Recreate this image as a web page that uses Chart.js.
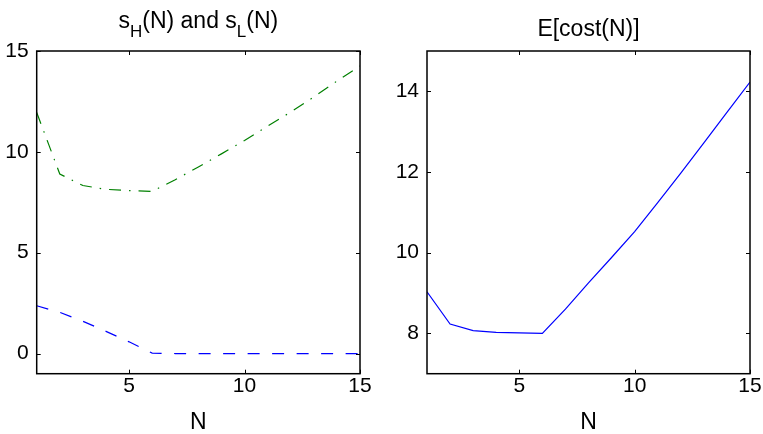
<!DOCTYPE html>
<html>
<head>
<meta charset="utf-8">
<script src="https://cdn.jsdelivr.net/npm/chart.js@4"></script>
<style>
  html, body { margin: 0; padding: 0; background: #fff; }
  #wrap { position: relative; width: 763px; height: 434px; }
  .box { position: absolute; top: 0; height: 434px; }
  #b1 { left: 0; width: 381px; }
  #b2 { left: 381px; width: 382px; }
</style>
</head>
<body>
<div id="wrap">
  <div class="box" id="b1"><canvas id="c1"></canvas></div>
  <div class="box" id="b2"><canvas id="c2"></canvas></div>
</div>
<script>
// ---- data ----
const N = [1, 2, 3, 4, 5, 6, 7, 8, 9, 10, 11, 12, 13, 14, 15];
const sH = [11.95, 8.90, 8.33, 8.14, 8.08, 8.04, 8.62, 9.25, 9.90, 10.56, 11.28, 11.97, 12.72, 13.51, 14.26];
const sL = [2.37, 2.04, 1.60, 1.10, 0.58, 0.02, 0, 0, 0, 0, 0, 0, 0, 0, 0];
const cost = [9.03, 8.23, 8.07, 8.025, 8.01, 8.0, 8.6, 9.25, 9.88, 10.52, 11.24, 11.97, 12.72, 13.48, 14.23];
const xTicks = [5, 10, 15];
const yTicksLeft = [0, 5, 10, 15];
const yTicksRight = [8, 10, 12, 14];
const leftTitle = [["s", 0], ["H", 1], ["(N) and s", 0], ["L", 1], ["(N)", 0]];
const rightTitle = "E[cost(N)]";
const xLabel = "N";

const FONT = "'Liberation Sans', Arial, Helvetica, sans-serif";

function pts(xs, ys) { return xs.map((x, i) => ({ x: x, y: ys[i] })); }

const boxPlugin = {
  id: 'matlabBox',
  afterDraw(chart) {
    const ctx = chart.ctx, a = chart.chartArea;
    const xs = chart.scales.x, ys = chart.scales.y;
    const L = 4;
    ctx.save();
    ctx.strokeStyle = '#000';
    ctx.lineWidth = 1.5;
    ctx.strokeRect(a.left, a.top, a.right - a.left, a.bottom - a.top);
    ctx.lineWidth = 1;
    ctx.beginPath();
    xs.ticks.forEach(t => {
      const p = Math.round(xs.getPixelForValue(t.value)) + 0.5;
      ctx.moveTo(p, a.bottom); ctx.lineTo(p, a.bottom - L);
      ctx.moveTo(p, a.top); ctx.lineTo(p, a.top + L);
    });
    ys.ticks.forEach(t => {
      const p = Math.round(ys.getPixelForValue(t.value)) + 0.5;
      ctx.moveTo(a.left, p); ctx.lineTo(a.left + L, p);
      ctx.moveTo(a.right, p); ctx.lineTo(a.right - L, p);
    });
    ctx.stroke();
    // title
    const o = chart.options.plugins.matlabBox;
    const cx = (a.left + a.right) / 2;
    ctx.fillStyle = '#000';
    ctx.textBaseline = 'alphabetic';
    ctx.textAlign = 'left';
    const mainF = '23px ' + FONT, subF = '17px ' + FONT;
    let w = 0;
    o.parts.forEach(([t, s]) => { ctx.font = s ? subF : mainF; w += ctx.measureText(t).width; });
    let x = cx - w / 2;
    o.parts.forEach(([t, s]) => {
      ctx.font = s ? subF : mainF;
      ctx.fillText(t, x, o.baseline + (s ? 9 : 0));
      x += ctx.measureText(t).width;
    });
    ctx.restore();
  }
};

function makeChart(id, datasets, yMin, yMax, yTicks, padRight, yWidth, parts, baseline) {
  return new Chart(document.getElementById(id), {
    type: 'line',
    data: { datasets: datasets },
    options: {
      responsive: true,
      maintainAspectRatio: false,
      animation: false,
      events: [],
      layout: { padding: { top: 51, right: padRight, left: 0, bottom: 0 } },
      plugins: {
        legend: { display: false },
        tooltip: { enabled: false },
        title: { display: false },
        matlabBox: { parts: parts, baseline: baseline }
      },
      scales: {
        x: {
          type: 'linear', min: 1, max: 15,
          grid: { display: false, drawTicks: false }, border: { display: false },
          afterBuildTicks: s => { s.ticks = xTicks.map(v => ({ value: v })); },
          afterFit: s => { s.height = 60.3; },
          ticks: { font: { family: FONT, size: 21 }, color: '#000', padding: 0, maxRotation: 0 },
          title: { display: true, text: xLabel, color: '#000', font: { family: FONT, size: 23, lineHeight: 1 }, padding: { top: 0, bottom: 0 } }
        },
        y: {
          type: 'linear', min: yMin, max: yMax,
          grid: { display: false, drawTicks: false }, border: { display: false },
          afterBuildTicks: s => { s.ticks = yTicks.map(v => ({ value: v })); },
          afterFit: s => { s.width = yWidth; },
          ticks: { font: { family: FONT, size: 21 }, color: '#000', padding: 8 }
        }
      }
    },
    plugins: [boxPlugin]
  });
}

makeChart('c1', [
  { data: pts(N, sH), borderColor: 'rgb(0,128,0)', borderWidth: 1.2, borderDash: [12, 8, 1.5, 8], pointRadius: 0, tension: 0, fill: false },
  { data: pts(N, sL), borderColor: 'rgb(0,0,255)', borderWidth: 1.2, borderDash: [12, 12.5], pointRadius: 0, tension: 0, fill: false }
], -1, 15, yTicksLeft, 21, 36.7, leftTitle, 28);

makeChart('c2', [
  { data: pts(N, cost), borderColor: 'rgb(0,0,255)', borderWidth: 1.2, pointRadius: 0, tension: 0, fill: false }
], 7, 15, yTicksRight, 13, 46, [[rightTitle, 0]], 35.5);
</script>
</body>
</html>
